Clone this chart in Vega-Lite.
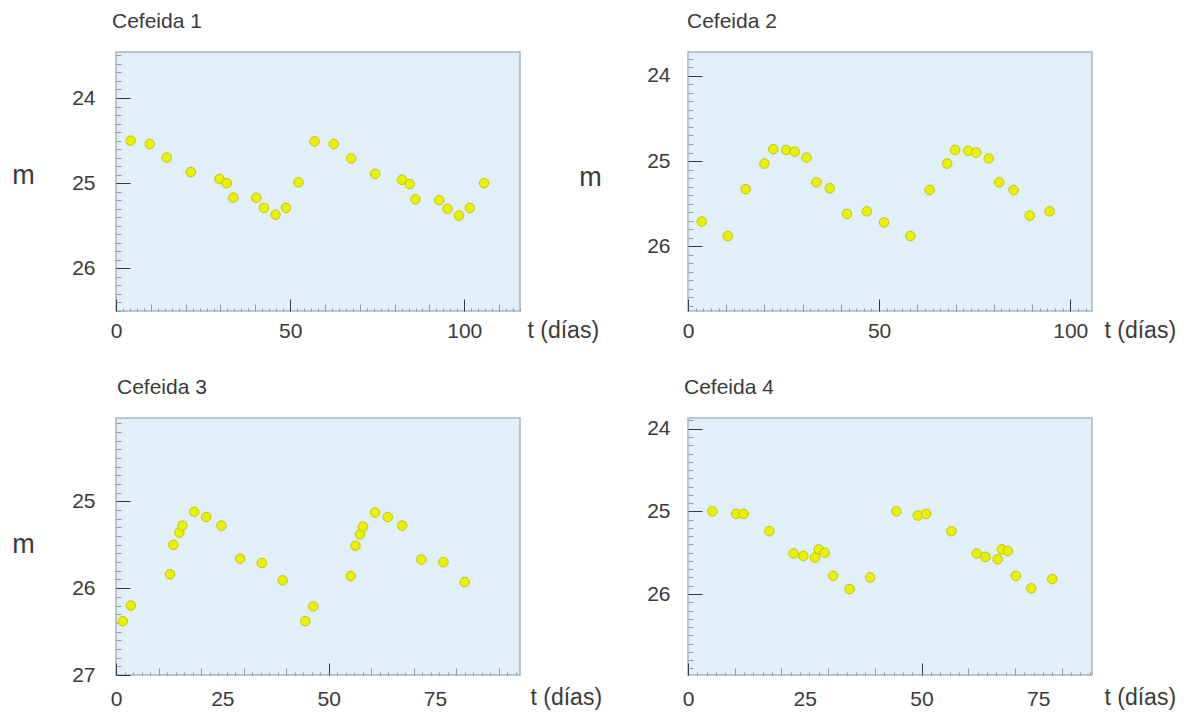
{
  "$schema": "https://vega.github.io/schema/vega-lite/v6.json",
  "background": "white",
  "padding": {"left": 11, "top": 10, "right": 5, "bottom": 3},
  "config": {
    "view": {"fill": "#e0eff9", "stroke": "#a9b5bf", "strokeWidth": 1.5},
    "title": {"anchor": "start", "frame": "group", "offset": 20, "baseline": "alphabetic", "font": "Liberation Sans", "fontSize": 21, "fontWeight": "normal", "color": "#3a3a3a"},
    "axis": {"domain": false, "grid": false, "labelFont": "Liberation Sans", "labelColor": "#3a3a3a", "labelOverlap": false, "labelFlush": false, "titleFont": "Liberation Sans", "titleFontWeight": "normal", "titleColor": "#3a3a3a", "tickWidth": 1},
    "point": {"filled": true, "fill": "#e9f200", "stroke": "#c2c600", "strokeWidth": 1, "size": 90, "opacity": 1}
  },
  "datasets": {
    "c1": [
      {"t": 4.2, "m": 24.50}, {"t": 9.7, "m": 24.54}, {"t": 14.6, "m": 24.70}, {"t": 21.5, "m": 24.87},
      {"t": 29.7, "m": 24.95}, {"t": 31.8, "m": 25.00}, {"t": 33.7, "m": 25.17}, {"t": 40.3, "m": 25.17},
      {"t": 42.5, "m": 25.29}, {"t": 45.8, "m": 25.37}, {"t": 48.8, "m": 25.29}, {"t": 52.4, "m": 24.99},
      {"t": 57.0, "m": 24.51}, {"t": 62.5, "m": 24.54}, {"t": 67.5, "m": 24.71}, {"t": 74.4, "m": 24.89},
      {"t": 82.1, "m": 24.96}, {"t": 84.3, "m": 25.01}, {"t": 86.0, "m": 25.19}, {"t": 92.8, "m": 25.20},
      {"t": 95.2, "m": 25.30}, {"t": 98.5, "m": 25.38}, {"t": 101.6, "m": 25.29}, {"t": 105.7, "m": 25.00}
    ],
    "c2": [
      {"t": 3.6, "m": 25.71}, {"t": 10.4, "m": 25.88}, {"t": 15.1, "m": 25.33}, {"t": 20.0, "m": 25.03},
      {"t": 22.3, "m": 24.86}, {"t": 25.7, "m": 24.87}, {"t": 27.9, "m": 24.89}, {"t": 31.0, "m": 24.96},
      {"t": 33.6, "m": 25.25}, {"t": 37.1, "m": 25.32}, {"t": 41.6, "m": 25.62}, {"t": 46.8, "m": 25.59},
      {"t": 51.3, "m": 25.72}, {"t": 58.2, "m": 25.88}, {"t": 63.2, "m": 25.34}, {"t": 67.8, "m": 25.03},
      {"t": 69.9, "m": 24.87}, {"t": 73.3, "m": 24.88}, {"t": 75.4, "m": 24.90}, {"t": 78.7, "m": 24.97},
      {"t": 81.4, "m": 25.25}, {"t": 85.2, "m": 25.34}, {"t": 89.4, "m": 25.64}, {"t": 94.6, "m": 25.59}
    ],
    "c3": [
      {"t": 1.6, "m": 26.38}, {"t": 3.5, "m": 26.20}, {"t": 12.7, "m": 25.84}, {"t": 13.5, "m": 25.50},
      {"t": 14.9, "m": 25.36}, {"t": 15.6, "m": 25.28}, {"t": 18.4, "m": 25.12}, {"t": 21.2, "m": 25.18},
      {"t": 24.8, "m": 25.28}, {"t": 29.2, "m": 25.66}, {"t": 34.3, "m": 25.71}, {"t": 39.2, "m": 25.91},
      {"t": 44.5, "m": 26.38}, {"t": 46.4, "m": 26.21}, {"t": 55.2, "m": 25.86}, {"t": 56.3, "m": 25.51},
      {"t": 57.4, "m": 25.38}, {"t": 58.1, "m": 25.29}, {"t": 60.9, "m": 25.13}, {"t": 63.9, "m": 25.18},
      {"t": 67.3, "m": 25.28}, {"t": 71.8, "m": 25.67}, {"t": 77.0, "m": 25.70}, {"t": 82.0, "m": 25.93}
    ],
    "c4": [
      {"t": 5.2, "m": 25.00}, {"t": 10.3, "m": 25.03}, {"t": 11.9, "m": 25.03}, {"t": 17.4, "m": 25.24},
      {"t": 22.6, "m": 25.51}, {"t": 24.7, "m": 25.54}, {"t": 27.2, "m": 25.56}, {"t": 28.0, "m": 25.46},
      {"t": 29.3, "m": 25.50}, {"t": 31.1, "m": 25.78}, {"t": 34.6, "m": 25.94}, {"t": 39.0, "m": 25.80},
      {"t": 44.6, "m": 25.00}, {"t": 49.2, "m": 25.05}, {"t": 51.0, "m": 25.03}, {"t": 56.4, "m": 25.24},
      {"t": 61.8, "m": 25.51}, {"t": 63.7, "m": 25.55}, {"t": 66.3, "m": 25.58}, {"t": 67.2, "m": 25.46},
      {"t": 68.5, "m": 25.48}, {"t": 70.2, "m": 25.78}, {"t": 73.5, "m": 25.93}, {"t": 78.0, "m": 25.82}
    ]
  },
  "bounds": "flush",
  "columns": 2,
  "spacing": {"row": 107, "column": 168},
  "concat": [
    {
      "width": 404, "height": 259,
      "title": {"text": "Cefeida 1", "dx": -4},
      "data": {"name": "c1"},
      "mark": {"type": "point"},
      "encoding": {
        "x": {"field": "t", "type": "quantitative",
          "scale": {"domain": [0, 116], "nice": false, "zero": false},
          "axis": {"orient": "bottom", "tickCount": 58,
            "labelExpr": "datum.value % 50 === 0 ? datum.label : ''", "labelPadding": 21,
            "labelFontSize": {"condition": {"test": "datum.value % 50 === 0", "value": 21}, "value": 0},
            "tickSize": {"condition": [{"test": "datum.value % 50 === 0", "value": -12}, {"test": "datum.value % 10 === 0", "value": -7}], "value": -3},
            "tickColor": {"condition": {"test": "datum.value % 50 === 0", "value": "#2e3a44"}, "value": "#8d9ca8"},
            "title": "t (días)", "titleX": 411, "titleY": 26, "titleAlign": "left", "titleBaseline": "alphabetic", "titleFontSize": 23}},
        "y": {"field": "m", "type": "quantitative",
          "scale": {"domain": [23.46, 26.5], "reverse": true, "nice": false, "zero": false},
          "axis": {"orient": "left", "tickCount": 30,
            "labelExpr": "abs(datum.value - round(datum.value)) < 0.001 ? format(datum.value, '.0f') : ''", "labelPadding": 35, "labelBaseline": "middle",
            "labelFontSize": {"condition": {"test": "abs(datum.value - round(datum.value)) < 0.001", "value": 21}, "value": 0},
            "tickSize": {"condition": {"test": "abs(datum.value - round(datum.value)) < 0.001", "value": -14}, "value": -5},
            "tickColor": {"condition": {"test": "abs(datum.value - round(datum.value)) < 0.001", "value": "#2e3a44"}, "value": "#8d9ca8"},
            "title": "m", "titleAngle": 0, "titleX": -93, "titleY": 131, "titleAlign": "center", "titleBaseline": "alphabetic", "titleFontSize": 27}}
      }
    },
    {
      "width": 404, "height": 259,
      "title": {"text": "Cefeida 2", "dx": -1},
      "data": {"name": "c2"},
      "mark": {"type": "point"},
      "encoding": {
        "x": {"field": "t", "type": "quantitative",
          "scale": {"domain": [0, 105.7], "nice": false, "zero": false},
          "axis": {"orient": "bottom", "tickCount": 53,
            "labelExpr": "datum.value % 50 === 0 ? datum.label : ''", "labelPadding": 21,
            "labelFontSize": {"condition": {"test": "datum.value % 50 === 0", "value": 21}, "value": 0},
            "tickSize": {"condition": [{"test": "datum.value % 50 === 0", "value": -12}, {"test": "datum.value % 10 === 0", "value": -7}], "value": -3},
            "tickColor": {"condition": {"test": "datum.value % 50 === 0", "value": "#2e3a44"}, "value": "#8d9ca8"},
            "title": "t (días)", "titleX": 416, "titleY": 26, "titleAlign": "left", "titleBaseline": "alphabetic", "titleFontSize": 23}},
        "y": {"field": "m", "type": "quantitative",
          "scale": {"domain": [23.72, 26.76], "reverse": true, "nice": false, "zero": false},
          "axis": {"orient": "left", "tickCount": 30,
            "labelExpr": "abs(datum.value - round(datum.value)) < 0.001 ? format(datum.value, '.0f') : ''", "labelPadding": 32, "labelBaseline": "middle",
            "labelFontSize": {"condition": {"test": "abs(datum.value - round(datum.value)) < 0.001", "value": 21}, "value": 0},
            "tickSize": {"condition": {"test": "abs(datum.value - round(datum.value)) < 0.001", "value": -14}, "value": -5},
            "tickColor": {"condition": {"test": "abs(datum.value - round(datum.value)) < 0.001", "value": "#2e3a44"}, "value": "#8d9ca8"},
            "title": "m", "titleAngle": 0, "titleX": -98, "titleY": 133, "titleAlign": "center", "titleBaseline": "alphabetic", "titleFontSize": 27}}
      }
    },
    {
      "width": 404, "height": 257,
      "title": {"text": "Cefeida 3", "dx": 1},
      "data": {"name": "c3"},
      "mark": {"type": "point"},
      "encoding": {
        "x": {"field": "t", "type": "quantitative",
          "scale": {"domain": [0, 95], "nice": false, "zero": false},
          "axis": {"orient": "bottom",
            "values": [0, 2, 4, 6, 8, 10, 12, 14, 16, 18, 20, 22, 24, 25, 26, 28, 30, 32, 34, 36, 38, 40, 42, 44, 46, 48, 50, 52, 54, 56, 58, 60, 62, 64, 66, 68, 70, 72, 74, 75, 76, 78, 80, 82, 84, 86, 88, 90, 92, 94],
            "labelExpr": "datum.value % 25 === 0 ? datum.label : ''", "labelPadding": 25,
            "labelFontSize": {"condition": {"test": "datum.value % 25 === 0", "value": 21}, "value": 0},
            "tickSize": {"condition": [{"test": "datum.value % 25 === 0", "value": -12}, {"test": "datum.value % 10 === 0", "value": -7}], "value": -3},
            "tickOpacity": {"condition": {"test": "datum.value % 2 === 1", "value": 0}, "value": 1},
            "tickColor": {"condition": {"test": "datum.value % 50 === 0", "value": "#2e3a44"}, "value": "#8d9ca8"},
            "title": "t (días)", "titleX": 414, "titleY": 29, "titleAlign": "left", "titleBaseline": "alphabetic", "titleFontSize": 23}},
        "y": {"field": "m", "type": "quantitative",
          "scale": {"domain": [24.04, 27], "reverse": true, "nice": false, "zero": false},
          "axis": {"orient": "left", "tickCount": 30,
            "labelExpr": "abs(datum.value - round(datum.value)) < 0.001 ? format(datum.value, '.0f') : ''", "labelPadding": 35, "labelBaseline": "middle",
            "labelFontSize": {"condition": {"test": "abs(datum.value - round(datum.value)) < 0.001", "value": 21}, "value": 0},
            "tickSize": {"condition": {"test": "abs(datum.value - round(datum.value)) < 0.001", "value": -14}, "value": -5},
            "tickColor": {"condition": {"test": "abs(datum.value - round(datum.value)) < 0.001", "value": "#2e3a44"}, "value": "#8d9ca8"},
            "title": "m", "titleAngle": 0, "titleX": -93, "titleY": 134, "titleAlign": "center", "titleBaseline": "alphabetic", "titleFontSize": 27}}
      }
    },
    {
      "width": 404, "height": 257,
      "title": {"text": "Cefeida 4", "dx": -4},
      "data": {"name": "c4"},
      "mark": {"type": "point"},
      "encoding": {
        "x": {"field": "t", "type": "quantitative",
          "scale": {"domain": [0, 86.5], "nice": false, "zero": false},
          "axis": {"orient": "bottom",
            "values": [0, 2, 4, 6, 8, 10, 12, 14, 16, 18, 20, 22, 24, 25, 26, 28, 30, 32, 34, 36, 38, 40, 42, 44, 46, 48, 50, 52, 54, 56, 58, 60, 62, 64, 66, 68, 70, 72, 74, 75, 76, 78, 80, 82, 84, 86],
            "labelExpr": "datum.value % 25 === 0 ? datum.label : ''", "labelPadding": 25,
            "labelFontSize": {"condition": {"test": "datum.value % 25 === 0", "value": 21}, "value": 0},
            "tickSize": {"condition": [{"test": "datum.value % 25 === 0", "value": -12}, {"test": "datum.value % 10 === 0", "value": -7}], "value": -3},
            "tickOpacity": {"condition": {"test": "datum.value % 2 === 1", "value": 0}, "value": 1},
            "tickColor": {"condition": {"test": "datum.value % 50 === 0", "value": "#2e3a44"}, "value": "#8d9ca8"},
            "title": "t (días)", "titleX": 416, "titleY": 29, "titleAlign": "left", "titleBaseline": "alphabetic", "titleFontSize": 23}},
        "y": {"field": "m", "type": "quantitative",
          "scale": {"domain": [23.87, 26.98], "reverse": true, "nice": false, "zero": false},
          "axis": {"orient": "left", "tickCount": 30,
            "labelExpr": "abs(datum.value - round(datum.value)) < 0.001 ? format(datum.value, '.0f') : ''", "labelPadding": 32, "labelBaseline": "middle",
            "labelFontSize": {"condition": {"test": "abs(datum.value - round(datum.value)) < 0.001", "value": 21}, "value": 0},
            "tickSize": {"condition": {"test": "abs(datum.value - round(datum.value)) < 0.001", "value": -14}, "value": -5},
            "tickColor": {"condition": {"test": "abs(datum.value - round(datum.value)) < 0.001", "value": "#2e3a44"}, "value": "#8d9ca8"},
            "title": null}}
      }
    }
  ]
}
